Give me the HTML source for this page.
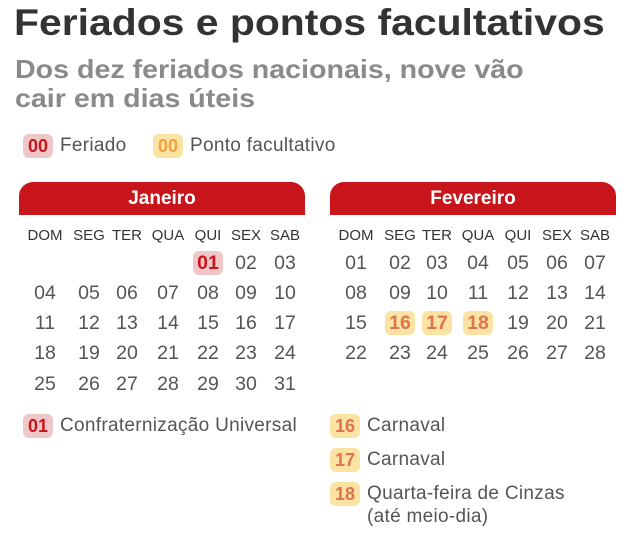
<!DOCTYPE html>
<html><head><meta charset="utf-8"><style>
body{margin:0;width:638px;height:534px;background:#fff;font-family:"Liberation Sans","DejaVu Sans",sans-serif;position:relative;overflow:hidden}
.a{position:absolute;white-space:nowrap;transform-origin:0 0}
.t{left:14px;top:2px;font-size:37px;font-weight:bold;color:#333;transform:scaleX(1.105)}
.s{left:15px;font-size:26px;font-weight:bold;color:#8a8a8a;line-height:29px;transform:scaleX(1.1)}
.bar{position:absolute;top:182px;height:33px;width:286px;background:#c8151b;border-radius:14px 14px 0 0;color:#fff;font-weight:bold;font-size:19px;text-align:center;line-height:33px}
.c{position:absolute;width:40px;margin-left:-20px;text-align:center;color:#555;font-size:19.5px;line-height:24px}
.h{font-size:15px;color:#333}
.r{background:#f0c7c9;color:#c8151b;font-weight:bold;border-radius:6px;width:30px;margin-left:-15px}
.y{background:#fbe3a4;color:#e0734d;font-weight:bold;border-radius:6px;width:30px;margin-left:-15px}
.lg{position:absolute;font-size:19px;color:#555;letter-spacing:0.3px;white-space:nowrap}
.bx{display:inline-block;width:30px;height:24px;line-height:24px;text-align:center;border-radius:6px;font-weight:bold;font-size:18px;vertical-align:middle;margin-right:7px;letter-spacing:0}
</style></head><body>
<div class="a t">Feriados e pontos facultativos</div>
<div class="a s" style="top:55px">Dos dez feriados nacionais, nove vão<br>cair em dias úteis</div>
<div class="lg" style="left:23px;top:134px"><span class="bx" style="background:#f0c7c9;color:#c8151b">00</span>Feriado</div>
<div class="lg" style="left:153px;top:134px"><span class="bx" style="background:#fbe3a4;color:#f0a040">00</span>Ponto facultativo</div>
<div class="bar" style="left:19px">Janeiro</div>
<div class="bar" style="left:330px">Fevereiro</div>
<div id="cal"></div>
<div class="lg" style="left:23px;top:414px"><span class="bx" style="background:#f0c7c9;color:#c8151b">01</span>Confraternização Universal</div>
<div class="lg" style="left:330px;top:414px"><span class="bx" style="background:#fbe3a4;color:#e0734d">16</span>Carnaval</div>
<div class="lg" style="left:330px;top:448px"><span class="bx" style="background:#fbe3a4;color:#e0734d">17</span>Carnaval</div>
<div class="lg" style="left:330px;top:482px;line-height:21px"><span class="bx" style="background:#fbe3a4;color:#e0734d">18</span>Quarta-feira de Cinzas<br><span style="margin-left:37px">(até meio-dia)</span></div>
<script>
var d=["DOM","SEG","TER","QUA","QUI","SEX","SAB"];
var jx=[45,89,127,168,208,246,285],fx=[356,400,437,478,518,557,595];
var ry=[263,293,323,353,384],h="";
function p(x,y,t,c){h+='<div class="c '+c+'" style="left:'+x+'px;top:'+(y-12)+'px">'+t+'</div>';}
for(var i=0;i<7;i++){p(jx[i],236,d[i],"h");p(fx[i],236,d[i],"h");}
function z(n){return n<10?"0"+n:""+n}
for(var n=1;n<=31;n++){var k=n+3,r=Math.floor(k/7),c=k%7;p(jx[c],ry[r],z(n),n==1?"r":"");}
for(var n=1;n<=28;n++){var k=n-1,r=Math.floor(k/7),c=k%7;p(fx[c],ry[r],z(n),(n>=16&&n<=18)?"y":"");}
document.getElementById("cal").innerHTML=h;
</script>
</body></html>
